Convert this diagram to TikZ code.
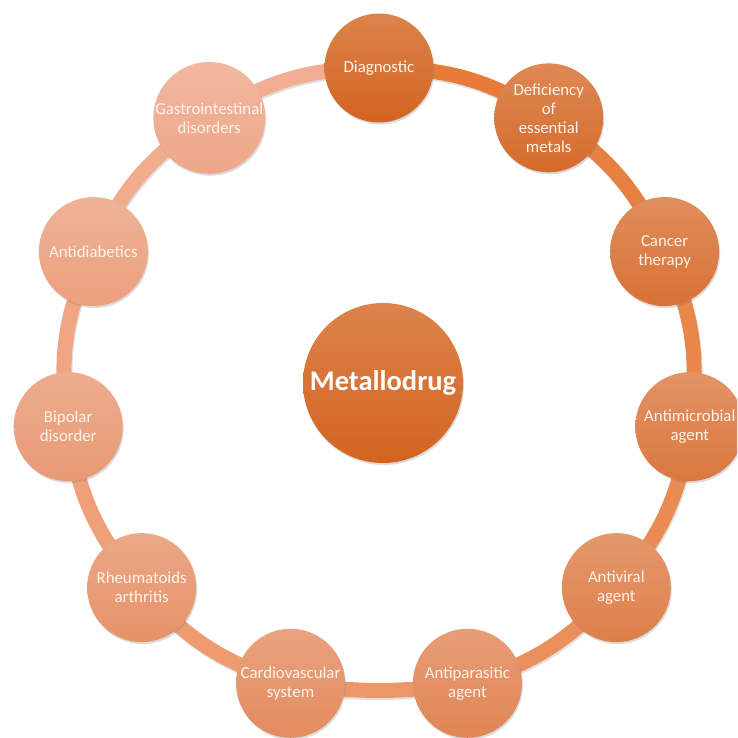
\documentclass[tikz,border=0pt]{standalone}
\usepackage{fontspec}
\setmainfont{Carlito}
\usetikzlibrary{shadows}
\pgfdeclarelayer{background}
\pgfsetlayers{background,main}
\definecolor{darkc}{RGB}{211,100,32}
\definecolor{lightc}{RGB}{238,166,136}
\definecolor{ringdark}{RGB}{230,120,50}
\definecolor{ringlight}{RGB}{242,174,146}
\definecolor{txt}{RGB}{255,244,236}
\tikzset{
  item/.style={circle, minimum size=109pt, inner sep=0pt, align=center,
    font=\fontsize{16.8}{19}\selectfont, text=txt,
    drop shadow={opacity=0.28, shadow xshift=1pt, shadow yshift=-2pt}},
  hub/.style={circle, minimum size=160pt, inner sep=0pt, align=center,
    font=\fontsize{28.5}{32}\selectfont\bfseries, text=white,
    top color=darkc!80!white, bottom color=darkc,
    drop shadow={opacity=0.28, shadow xshift=1pt, shadow yshift=-2pt}},
  band/.style={line width=15pt},
  bandshadow/.style={line width=15pt, black, opacity=0.12},
}
\begin{document}
\begin{tikzpicture}[x=1pt,y=1pt]
\useasboundingbox (-379,-356) rectangle (358,382);
\clip (-379,-356) rectangle (358,382);
\def\R{314}
\foreach[count=\i from 0] \t in {Diagnostic,{Deficiency\\of\\essential\\metals},{Cancer\\therapy},{Antimicrobial\\agent},{Antiviral\\agent},{Antiparasitic\\agent},{Cardiovascular\\system},{Rheumatoids\\arthritis},{Bipolar\\disorder},Antidiabetics,{Gastrointestinal\\disorders}} {
  \pgfmathtruncatemacro\p{\i*10}
  \colorlet{cc}{lightc!\p!darkc}
  \node[item, top color=cc!80!white, bottom color=cc] (n\i) at ({90-\i*360/11}:\R) {\t};
}
\node[hub] (hub) at (4,-1) {Metallodrug};
\begin{pgfonlayer}{background}
\fill[white] (-379,-356) rectangle (358,382);
\foreach \i/\b in {0/16.36,1/16.36,2/16.36,3/16.36,4/16.36,5/8,6/16.36,7/16.36,8/16.36,9/16.36,10/16.36} {
  \pgfmathtruncatemacro\j{mod(\i+1,11)}
  \pgfmathtruncatemacro\p{min(100,\i*10+5)}
  \colorlet{rc}{ringlight!\p!ringdark}
  \draw[bandshadow, transform canvas={shift={(1pt,-2pt)}}] (n\i.center) to[bend left=\b] (n\j.center);
  \draw[band, rc] (n\i.center) to[bend left=\b] (n\j.center);
}
\end{pgfonlayer}
\end{tikzpicture}
\end{document}
